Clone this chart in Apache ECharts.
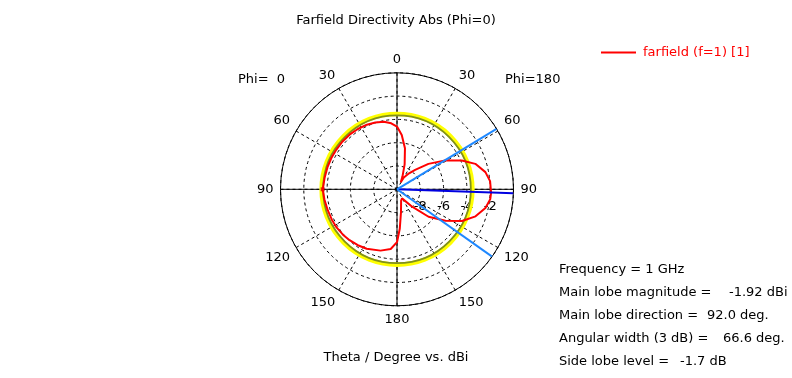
<!DOCTYPE html>
<html><head><meta charset="utf-8">
<script src="https://cdn.jsdelivr.net/npm/echarts@6/dist/echarts.min.js"></script>
<style>html,body{margin:0;padding:0;background:#fff}#c{width:792px;height:378px}</style>
</head><body><div id="c"></div>
<script>
// Farfield pattern (display angle, 0 at top, clockwise) in dBi
const thetaDeg = [0,5,11,17,23,28,30,37,43,51,59,66,72,79,85,92,96,102,109,116,123,131,139,151,157,160,170,176,180,186,195,207,215,223,230,238,245,253,262,270,279,288,296,303,311,319,327,335,342,349,355,360];
const directivityDbi = [-4.61,-5.33,-6.42,-7.76,-8.79,-9.31,-8.83,-8.28,-7.72,-6.53,-5.18,-3.91,-2.93,-2.27,-1.98,-1.92,-1.95,-2.24,-2.87,-3.79,-5.04,-6.41,-8.02,-9.11,-9.28,-8.97,-8.02,-6.60,-5.46,-4.85,-4.55,-4.27,-4.14,-4.03,-3.94,-3.86,-3.83,-3.79,-3.71,-3.62,-3.71,-3.74,-3.76,-3.78,-3.78,-3.79,-3.83,-3.88,-3.97,-4.09,-4.31,-4.61];
const angleTickLabels = ['0','30','60','90','120','150','180','150','120','90','60','30'];
const radiusTicks = [-8,-6,-4,-2];
const mainLobeDirection = [92];
const beamEdgeDirections = [58.7, 125.3];
const sideLobeRing = [-3.53];
const halfPowerRing = [-3.66];
const markerPoint = [[-3.62, 270]];
const seriesName = 'farfield (f=1) [1]';
const infoLabels = ['Frequency = 1 GHz','Main lobe magnitude =','Main lobe direction =','Angular width (3 dB) =','Side lobe level ='];
const infoValues = ['','-1.92 dBi','92.0 deg.','66.6 deg.','-1.7 dB'];

const FONT = 'DejaVu Sans';
const CX = 397, CY = 189.3, R = 116.5;
const rMin = -10, rMax = 0;

function ringSeries(values, color, width) {
  return {
    type: 'custom', coordinateSystem: 'polar', polarIndex: 0, silent: true,
    data: values.map(v => [v, 0]),
    renderItem: function (params, api) {
      const p = api.coord([api.value(0), 0]);
      const c = api.coord([rMin, 0]);
      const r = Math.hypot(p[0] - c[0], p[1] - c[1]);
      return { type: 'circle', shape: { cx: c[0], cy: c[1], r: r },
        style: { fill: 'none', stroke: color, lineWidth: width } };
    }
  };
}
function rayData(dir) { return [[rMin, dir], [rMax, dir]]; }

const textBase = { fill: '#000', fontFamily: FONT, fontSize: 13 };
const graphics = [
  { type: 'text', left: 238, top: 73, style: Object.assign({ text: 'Phi=  0' }, textBase) },
  { type: 'text', left: 505, top: 73, style: Object.assign({ text: 'Phi=180' }, textBase) },
  { type: 'text', left: 'center', top: 351, style: Object.assign({ text: 'Theta / Degree vs. dBi' }, textBase) }
];
const infoY = [263, 286, 309, 332, 355];
const valueX = [0, 729, 707, 723, 680];
infoLabels.forEach((t, i) => {
  graphics.push({ type: 'text', left: 559, top: infoY[i], style: Object.assign({ text: t }, textBase) });
  if (infoValues[i]) graphics.push({ type: 'text', left: valueX[i], top: infoY[i], style: Object.assign({ text: infoValues[i] }, textBase) });
});

const chart = echarts.init(document.getElementById('c'), null, { renderer: 'canvas' });
chart.setOption({
  backgroundColor: '#fff',
  animation: false,
  title: { text: 'Farfield Directivity Abs (Phi=0)', left: 'center', top: 9,
    textStyle: { fontFamily: FONT, fontSize: 13, fontWeight: 'normal', color: '#000' } },
  legend: { data: [{ name: seriesName, icon: 'rect' }], left: 596, top: 41, itemWidth: 35, itemHeight: 2,
    selectedMode: false, textStyle: { color: '#ff0000', fontFamily: FONT, fontSize: 13, padding: [0, 0, 0, 2] } },
  polar: [
    { center: [CX, CY], radius: R },
    { center: [CX, CY], radius: R },
    { center: [CX, CY], radius: R }
  ],
  angleAxis: [
    { polarIndex: 0, type: 'value', min: 0, max: 360, interval: 30, startAngle: 90, clockwise: true,
      axisLine: { lineStyle: { color: '#000', width: 1 } }, axisTick: { show: false },
      axisLabel: { color: '#000', fontFamily: FONT, fontSize: 13, margin: 7,
        formatter: v => (v >= 360 ? '' : angleTickLabels[Math.round(v / 30)]) },
      splitLine: { show: true, lineStyle: { color: '#000', width: 1, type: [3, 3] } } },
    { polarIndex: 1, type: 'value', min: 0, max: 360, interval: 90, startAngle: 90, clockwise: true,
      axisLine: { show: false }, axisTick: { show: false }, axisLabel: { show: false },
      splitLine: { show: true, lineStyle: { color: '#000', width: 1 } } },
    { polarIndex: 2, type: 'value', min: 0, max: 360, startAngle: 0, show: false }
  ],
  radiusAxis: [
    { polarIndex: 0, min: rMin, max: rMax, interval: 2, axisLine: { show: false }, axisTick: { show: false },
      axisLabel: { show: false }, splitLine: { show: true, lineStyle: { color: '#000', width: 1, type: [3, 3] } } },
    { polarIndex: 1, min: rMin, max: rMax, show: false },
    { polarIndex: 2, min: rMin, max: rMax, interval: 2, axisLine: { show: false }, axisTick: { show: false },
      splitLine: { show: false },
      axisLabel: { margin: -24, color: '#000', fontFamily: FONT, fontSize: 13,
        formatter: v => (radiusTicks.indexOf(v) >= 0 ? String(v) : '') } }
  ],
  graphic: graphics,
  series: [
    ringSeries(sideLobeRing, '#ffff00', 4.5),
    ringSeries(halfPowerRing, '#7f8f1f', 1.8),
    { name: seriesName, type: 'line', coordinateSystem: 'polar', polarIndex: 0, symbol: 'none', smooth: false,
      lineStyle: { color: '#ff0000', width: 2 }, itemStyle: { color: '#ff0000' },
      data: thetaDeg.map((t, i) => [directivityDbi[i], t]) },
    { type: 'scatter', coordinateSystem: 'polar', polarIndex: 0, symbol: 'rect', symbolSize: 4,
      itemStyle: { color: '#d00000' }, data: markerPoint, silent: true },
    { type: 'line', coordinateSystem: 'polar', polarIndex: 0, symbol: 'none',
      lineStyle: { color: '#0000e0', width: 2 }, data: rayData(mainLobeDirection[0]) },
    { type: 'line', coordinateSystem: 'polar', polarIndex: 0, symbol: 'none',
      lineStyle: { color: '#1e88ff', width: 2 }, data: rayData(beamEdgeDirections[0]) },
    { type: 'line', coordinateSystem: 'polar', polarIndex: 0, symbol: 'none',
      lineStyle: { color: '#1e88ff', width: 2 }, data: rayData(beamEdgeDirections[1]) }
  ]
});
</script></body></html>
